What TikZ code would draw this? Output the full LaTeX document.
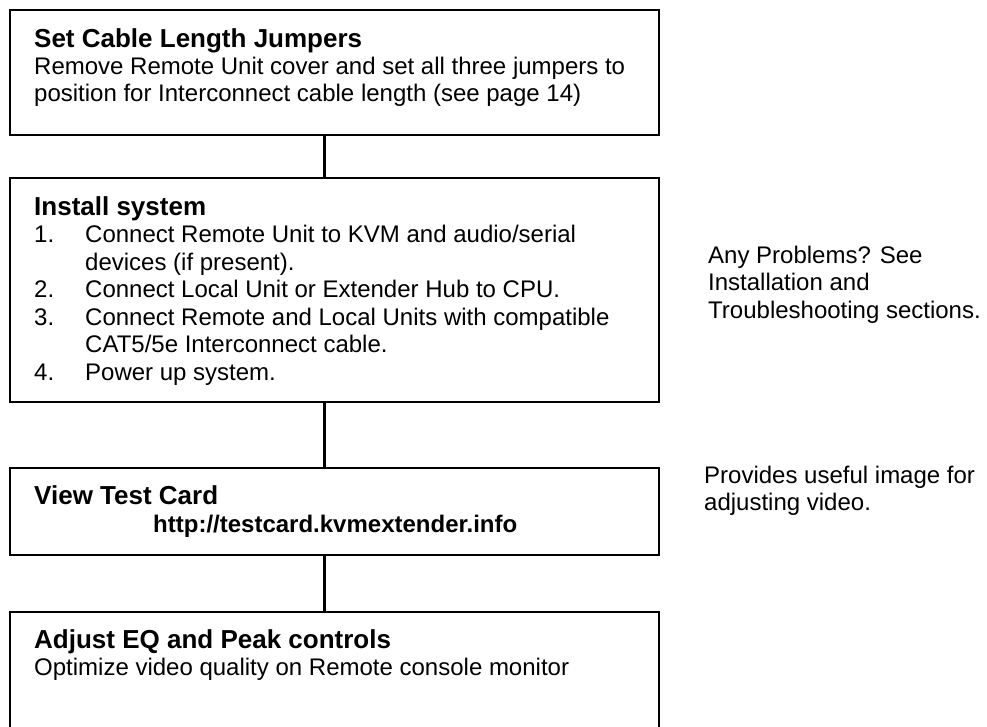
\documentclass[tikz,border=0pt]{standalone}
\usepackage{fontspec}
\setmainfont{Liberation Sans}
\newcommand{\num}[1]{\makebox[51pt][l]{#1}}
\begin{document}
\begin{tikzpicture}[x=1pt,y=-1pt,
  stepbox/.style={draw=black,line width=2.7pt,minimum width=649pt,inner sep=0pt},
  head/.style={anchor=base west,inner sep=0pt,font=\fontsize{26}{30}\selectfont\bfseries},
  body/.style={anchor=base west,inner sep=0pt,font=\fontsize{24}{27.5}\selectfont},
  link/.style={draw=black,line width=2.7pt}]
 \useasboundingbox (0,0) rectangle (987,726);
 % boxes
 \node (box 1) at (334.5,72.5) [stepbox,minimum height=125pt] {};
 \node (box 2) at (334.5,290) [stepbox,minimum height=224pt] {};
 \node (box 3) at (334.5,511.5) [stepbox,minimum height=87pt] {};
 \node (box 4) at (334.5,674.5) [stepbox,minimum height=125pt] {};
 % box 1
 \node (head 1) at (34,47) [head] {Set Cable Length Jumpers};
 \node (text 1a) at (34,74) [body] {Remove Remote Unit cover and set all three jumpers to};
 \node (text 1b) at (34,101.5) [body] {position for Interconnect cable length (see page 14)};
 % box 2
 \node (head 2) at (34,215) [head] {Install system};
 \node (text 2a) at (34,242.5) [body] {\num{1.}Connect Remote Unit to KVM and audio/serial};
 \node (text 2b) at (85,270) [body] {devices (if present).};
 \node (text 2c) at (34,297.5) [body] {\num{2.}Connect Local Unit or Extender Hub to CPU.};
 \node (text 2d) at (34,325) [body] {\num{3.}Connect Remote and Local Units with compatible};
 \node (text 2e) at (85,352.5) [body] {CAT5/5e Interconnect cable.};
 \node (text 2f) at (34,380) [body] {\num{4.}Power up system.};
 % box 3
 \node (head 3) at (34,504) [head] {View Test Card};
 \node (text 3a) at (153,532) [body,font=\fontsize{24}{27.5}\selectfont\bfseries] {http://testcard.kvmextender.info};
 % box 4
 \node (head 4) at (34,648) [head] {Adjust EQ and Peak controls};
 \node (text 4a) at (34,675) [body] {Optimize video quality on Remote console monitor};
 % side notes
 \node (note 1a) at (708,263) [body] {Any Problems? See};
 \node (note 1b) at (708,290.5) [body] {Installation and};
 \node (note 1c) at (708,318) [body] {Troubleshooting sections.};
 \node (note 2a) at (704,483) [body] {Provides useful image for};
 \node (note 2b) at (704,510.5) [body] {adjusting video.};
 % connectors
 \draw[link] ([xshift=-10pt]box 1.south) -- ([xshift=-10pt]box 2.north);
 \draw[link] ([xshift=-10pt]box 2.south) -- ([xshift=-10pt]box 3.north);
 \draw[link] ([xshift=-10pt]box 3.south) -- ([xshift=-10pt]box 4.north);
\end{tikzpicture}
\end{document}
